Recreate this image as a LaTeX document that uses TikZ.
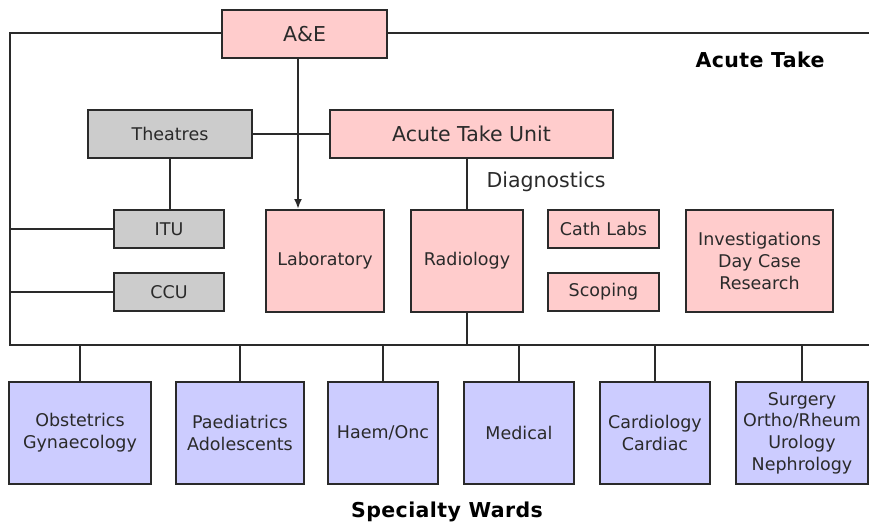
\documentclass[tikz,border=0pt]{standalone}
\usepackage{fontspec}
\setmainfont{DejaVu Sans}
\usetikzlibrary{arrows.meta,calc}
\definecolor{acutepink}{HTML}{FFCCCC}
\definecolor{suppgrey}{HTML}{CCCCCC}
\definecolor{wardblue}{HTML}{CCCCFF}
\definecolor{inkgrey}{HTML}{2A2A2A}
\tikzset{
  acb/.style={draw=inkgrey, fill=acutepink, line width=2pt, inner sep=0pt,
    align=center, text=inkgrey, font=\fontsize{17.5}{21.7}\selectfont},
  supb/.style={draw=inkgrey, fill=suppgrey, line width=2pt, inner sep=0pt,
    align=center, text=inkgrey, font=\fontsize{17.5}{21.7}\selectfont},
  wardb/.style={draw=inkgrey, fill=wardblue, line width=2pt, inner sep=0pt,
    align=center, text=inkgrey, minimum height=102pt,
    font=\fontsize{17.5}{21.7}\selectfont},
  topb/.style={acb, minimum height=48pt, font=\fontsize{20.5}{24}\selectfont},
  link/.style={draw=inkgrey, line width=2pt},
  flow/.style={link, -{Latex[length=10pt,width=8pt]}},
  grplab/.style={font=\fontsize{20.5}{24}\selectfont\bfseries\addfontfeatures{LetterSpace=2},
    text=black, inner sep=1pt},
  sublab/.style={font=\fontsize{20.5}{24}\selectfont, text=inkgrey, inner sep=1pt},
}
\begin{document}
\begin{tikzpicture}[x=1pt, y=-1pt]
    \useasboundingbox (0,0) rectangle (869,527);
    % acute take
    \node[topb, minimum width=165pt] (ae) at (304.5,34) {A\&E};
    \node[topb, minimum width=283pt] (atu) at (471.5,134) {Acute Take Unit};
    \node[supb, minimum width=164pt, minimum height=48pt] (the) at (170,134) {Theatres};
    \node[supb, minimum width=110pt, minimum height=38pt] (itu) at (169,229) {ITU};
    \node[supb, minimum width=110pt, minimum height=38pt] (ccu) at (169,292) {CCU};
    % diagnostics
    \node[acb, minimum width=118pt, minimum height=102pt] (lab) at (325,261) {Laboratory};
    \node[acb, minimum width=112pt, minimum height=102pt] (rad) at (467,261) {Radiology};
    \node[acb, minimum width=111pt, minimum height=38pt] (cath) at (603.5,229) {Cath Labs};
    \node[acb, minimum width=111pt, minimum height=38pt] (scop) at (603.5,292) {Scoping};
    \node[acb, minimum width=147pt, minimum height=102pt] (inv) at (759.5,261) {Investigations\\Day Case\\Research};
    % specialty wards
    \node[wardb, minimum width=142pt] (obs) at (80,433) {Obstetrics\\Gynaecology};
    \node[wardb, minimum width=128pt] (pae) at (240,433) {Paediatrics\\Adolescents};
    \node[wardb, minimum width=110pt] (haem) at (383,433) {Haem/Onc};
    \node[wardb, minimum width=110pt] (med) at (519,433) {Medical};
    \node[wardb, minimum width=110pt] (card) at (655,433) {Cardiology\\Cardiac};
    \node[wardb, minimum width=132pt] (surg) at (802,433) {Surgery\\Ortho/Rheum\\Urology\\Nephrology};
    % bus corners
    \coordinate (tl) at (10,33);
    \coordinate (tr) at (869,33);
    \coordinate (bl) at (10,345);
    \coordinate (br) at (869,345);
    \draw[link] (ae.west |- tl) -- (tl) -- (bl) -- (br);
    \draw[link] (ae.east |- tr) -- (tr);
    \draw[link] (the) -- (atu);
    \draw[link] (the.south) -- (the.south |- itu.north);
    \draw[link] (itu.west) -- (itu.west -| tl);
    \draw[link] (ccu.west) -- (ccu.west -| tl);
    \draw[link] (rad.north |- atu.south) -- (rad.north);
    \draw[link] (rad.south) -- (rad.south |- bl);
    \foreach \w in {obs,pae,haem,med,card,surg}
      \draw[link] (\w.north) -- (\w.north |- bl);
    \draw[flow] ([xshift=-6.5pt]ae.south) -- ([xshift=-27pt]lab.north);
    % group labels
    \node[grplab] (acutelab) at (760,60) {Acute Take};
    \node[sublab] (diaglab) at (546,182) {Diagnostics};
    \node[grplab] (wardlab) at (447,512) {Specialty Wards};
\end{tikzpicture}
\end{document}
